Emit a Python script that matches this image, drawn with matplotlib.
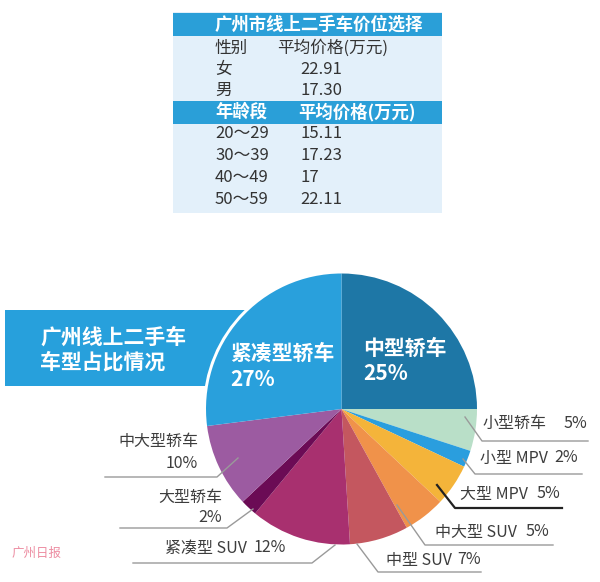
import matplotlib
matplotlib.use("Agg")
import matplotlib.pyplot as plt
from matplotlib.patches import Rectangle, Circle

plt.rcParams['font.family'] = ['Noto Sans CJK SC', 'DejaVu Sans']

# ---- data ----
gender = ['女', '男']
gender_price = ['22.91', '17.30']
age_groups = ['20～29', '30～39', '40～49', '50～59']
age_price = ['15.11', '17.23', '17', '22.11']

car_types = ['中型轿车', '小型轿车', '小型 MPV', '大型 MPV', '中大型 SUV',
             '中型 SUV', '紧凑型 SUV', '大型轿车', '中大型轿车', '紧凑型轿车']
shares = [25, 5, 2, 5, 5, 7, 12, 2, 10, 27]
colors = ['#1e77a6', '#b9dfc8', '#2a9ede', '#f4b43a', '#f0924a',
          '#c4575f', '#a8306f', '#6b0b55', '#9c5ba1', '#29a0dc']

H = 582


def Y(y):
    return H - y


fig = plt.figure(figsize=(6.0, 5.82), dpi=100)
ax = fig.add_axes([0, 0, 1, 1])

# ---- table ----
ax.add_patch(Rectangle((173, Y(213)), 269, 201, color='#e3f0fa', lw=0, zorder=1))
ax.add_patch(Rectangle((173, Y(36)), 269, 23, color='#2a9fd8', lw=0, zorder=2))
ax.add_patch(Rectangle((173, Y(124)), 269, 23, color='#2a9fd8', lw=0, zorder=2))
ax.text(215, Y(24.5), '广州市线上二手车价位选择', color='white', fontsize=12.5,
        fontweight='bold', va='center', ha='left', zorder=3)
ax.text(215, Y(48), '性别', color='#333333', fontsize=12, va='center', zorder=3)
ax.text(277, Y(48), '平均价格(万元)', color='#333333', fontsize=12, va='center', zorder=3)
for i, (g, p) in enumerate(zip(gender, gender_price)):
    ax.text(215, Y(69 + 21.5 * i), g, color='#333333', fontsize=12, va='center', zorder=3)
    ax.text(300, Y(69 + 21.5 * i), p, color='#333333', fontsize=12, va='center', zorder=3)
ax.text(215, Y(112), '年龄段', color='white', fontsize=12.5, fontweight='bold',
        va='center', zorder=3)
ax.text(298, Y(112), '平均价格(万元)', color='white', fontsize=12.5, fontweight='bold',
        va='center', zorder=3)
for i, (a, p) in enumerate(zip(age_groups, age_price)):
    ax.text(215, Y(134 + 21.7 * i), a, color='#333333', fontsize=12, va='center', zorder=3)
    ax.text(300, Y(134 + 21.7 * i), p, color='#333333', fontsize=12, va='center', zorder=3)

# ---- pie ----
cx, cy, r = 341.5, Y(409), 135.5
ax.add_patch(Rectangle((5, Y(386)), 337, 76, color='#27a0dc', lw=0, zorder=1))
ax.add_patch(Circle((cx, cy), r + 3, color='white', lw=0, zorder=2))
wedges, _ = ax.pie(shares, colors=colors, startangle=90, counterclock=False,
                   center=(cx, cy), radius=r, wedgeprops=dict(linewidth=0))
for w in wedges:
    w.set_zorder(3)

ax.text(40, Y(337), '广州线上二手车', color='white', fontsize=15,
        fontweight='bold', va='center', zorder=4)
ax.text(40, Y(362), '车型占比情况', color='white', fontsize=15,
        fontweight='bold', va='center', zorder=4)

ax.text(363, Y(348), car_types[0], color='white', fontsize=15, fontweight='bold',
        va='center', zorder=4)
ax.text(363, Y(374), f'{shares[0]}%', color='white', fontsize=15, fontweight='bold',
        va='center', zorder=4)
ax.text(230, Y(353), car_types[9], color='white', fontsize=15, fontweight='bold',
        va='center', zorder=4)
ax.text(230, Y(380), f'{shares[9]}%', color='white', fontsize=15, fontweight='bold',
        va='center', zorder=4)

# ---- outer labels with leader lines ----
tc = '#3d3d3d'
lc = '#9a9a9a'
fs = 11.5
right_labels = [
    (1, 483, 587, 423, [(465, 417), (482, 441), (588, 441)], lc, 1.0),
    (2, 480, 578, 458, [(463, 459), (475, 474), (582, 474)], lc, 1.0),
    (3, 460, 560, 494, [(437, 485), (455, 508), (562, 508)], '#222222', 1.6),
    (4, 435, 549, 532, [(397, 505), (425, 545), (553, 545)], lc, 1.0),
    (5, 386, 481, 560, [(357, 544), (378, 572), (481, 572)], lc, 1.0),
    (6, 165, 286, 548, [(335, 545), (312, 563), (133, 563)], lc, 1.0),
]
for idx, nx, px, ty, pts, c, lw in right_labels:
    ax.text(nx, Y(ty), car_types[idx], color=tc, fontsize=fs, va='center', ha='left', zorder=5)
    ax.text(px, Y(ty), f'{shares[idx]}%', color=tc, fontsize=fs, va='center', ha='right', zorder=5)
    ax.plot([p[0] for p in pts], [Y(p[1]) for p in pts], color=c, lw=lw, zorder=5)

left_labels = [
    (8, 198, 441, 463, [(238, 458), (217, 477), (105, 477)]),
    (7, 222, 497, 517, [(253, 509), (227, 528), (120, 528)]),
]
for idx, rx, y1, y2, pts in left_labels:
    ax.text(rx, Y(y1), car_types[idx], color=tc, fontsize=fs, va='center', ha='right', zorder=5)
    ax.text(rx, Y(y2), f'{shares[idx]}%', color=tc, fontsize=fs, va='center', ha='right', zorder=5)
    ax.plot([p[0] for p in pts], [Y(p[1]) for p in pts], color=lc, lw=1.0, zorder=5)

ax.text(12, Y(553), '广州日报', color='#e8708a', fontsize=9, style='italic',
        va='center', alpha=0.8, zorder=5)

ax.set_xlim(0, 600)
ax.set_ylim(0, H)
ax.set_aspect('equal')
ax.axis('off')

fig.savefig('out.png', dpi=100, facecolor='white')
